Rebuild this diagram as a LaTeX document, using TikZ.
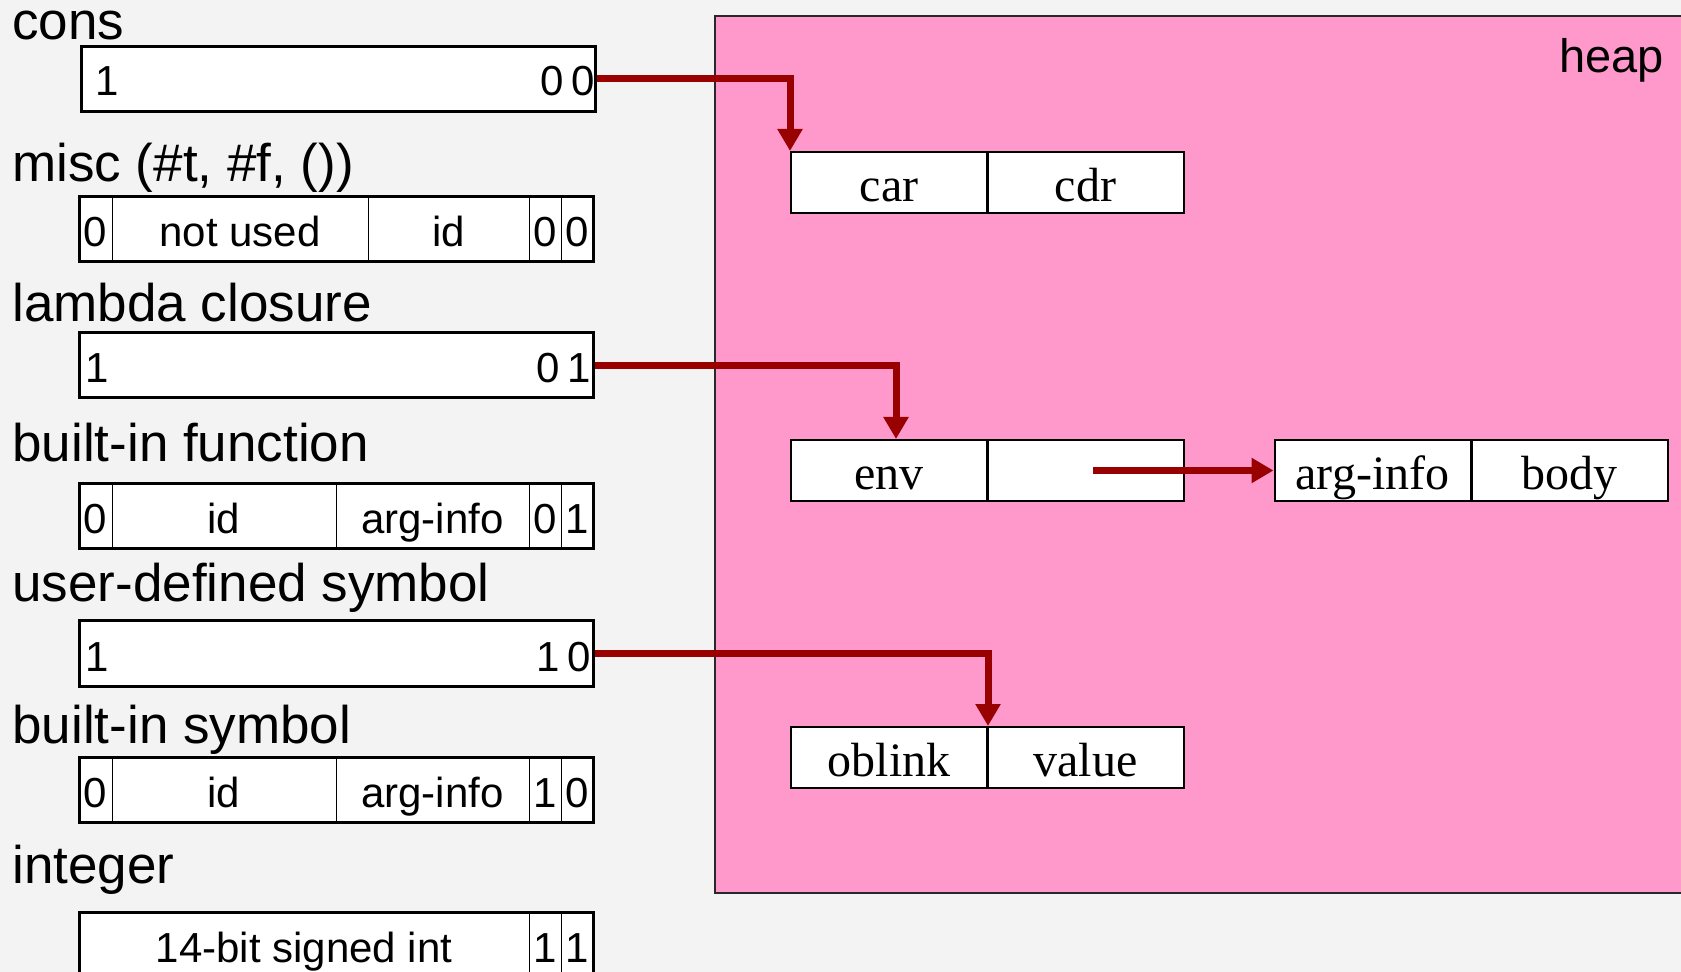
\documentclass[tikz,border=0pt]{standalone}
\usepackage{fontspec}
\setmainfont{Liberation Sans}
\newfontfamily\tms{Liberation Serif}
\usetikzlibrary{arrows.meta}
\definecolor{bgcol}{RGB}{243,243,243}
\definecolor{heappink}{RGB}{255,153,204}
\definecolor{arrred}{RGB}{153,0,0}
\definecolor{heapedge}{RGB}{40,40,40}
\tikzset{
  lbl/.style={anchor=base west, inner sep=0pt, font=\fontsize{26.5pt}{30pt}\selectfont},
  rec/.style={draw=black, line width=1.5pt, minimum width=257pt, minimum height=32.5pt, inner sep=0pt, fill=white},
  cellL/.style={inner sep=0pt, minimum height=32.5pt, text height=17.5pt, text depth=0pt, font=\fontsize{21pt}{24pt}\selectfont},
  txtL/.style={inner sep=0pt, font=\fontsize{21pt}{24pt}\selectfont},
  divider/.style={draw=black, line width=0.8pt},
  hcell/.style={draw=black, line width=1pt, fill=white, minimum width=98pt, minimum height=30.5pt, inner sep=0pt, text height=19pt, text depth=0pt, font=\tms\fontsize{24pt}{28pt}\selectfont},
  arr/.style={draw=arrred, line width=3.5pt, -{Triangle[width=12pt,length=11pt]}},
}
\begin{document}
\begin{tikzpicture}[x=0.5pt,y=-0.5pt]
\useasboundingbox (0,0) rectangle (1681,972);
\clip (0,0) rectangle (1681,972);
\fill[bgcol] (0,0) rectangle (1681,972);

% heap area
\draw[heapedge, line width=1pt, fill=heappink] (715,16) rectangle (1700,893);
\node[anchor=base east, inner sep=0pt, font=\fontsize{23.5pt}{28pt}\selectfont] (heaplbl) at (1664,73) {heap};

% labels
\node[lbl] (lcons) at (12,40) {cons};
\node[lbl] (lmisc) at (12,182) {misc (\#t, \#f, ())};
\node[lbl] (llam) at (12,322) {lambda closure};
\node[lbl] (lbif) at (12,462) {built-in function};
\node[lbl] (luds) at (12,602) {user-defined symbol};
\node[lbl] (lbis) at (12,743) {built-in symbol};
\node[lbl] (lint) at (12,883) {integer};

% cons
\node[rec] (cons) at (338,79) {};
\node[txtL, anchor=base west] (cons1) at (95,96) {1};
\node[txtL, anchor=base east] (cons00) at (595,96) {0\,0};

% misc
\node[rec] (misc) at (336,229.5) {};
\node[cellL, minimum width=16.5pt] (misc0) at (95.5,229.5) {0};
\node[cellL, minimum width=128pt] (miscnu) at (240,229.5) {not used};
\node[cellL, minimum width=80.5pt] (miscid) at (448.5,229.5) {id};
\node[cellL, minimum width=16pt] (miscb1) at (545,229.5) {0};
\node[cellL, minimum width=16pt] (miscb2) at (577,229.5) {0};
\draw[divider] (misc0.north east) -- (misc0.south east);
\draw[divider] (miscnu.north east) -- (miscnu.south east);
\draw[divider] (miscid.north east) -- (miscid.south east);
\draw[divider] (miscb1.north east) -- (miscb1.south east);

% lambda closure
\node[rec] (lam) at (336,365.5) {};
\node[txtL, anchor=base west] (lam1) at (85,383) {1};
\node[txtL, anchor=base east] (lam01) at (591,383) {0\,1};

% built-in function
\node[rec] (bif) at (336,516.5) {};
\node[cellL, minimum width=16.5pt] (bif0) at (95.5,516.5) {0};
\node[cellL, minimum width=112pt] (bifid) at (224,516.5) {id};
\node[cellL, minimum width=96.5pt] (bifai) at (432.5,516.5) {arg-info};
\node[cellL, minimum width=16pt] (bifb1) at (545,516.5) {0};
\node[cellL, minimum width=16pt] (bifb2) at (577,516.5) {1};
\draw[divider] (bif0.north east) -- (bif0.south east);
\draw[divider] (bifid.north east) -- (bifid.south east);
\draw[divider] (bifai.north east) -- (bifai.south east);
\draw[divider] (bifb1.north east) -- (bifb1.south east);

% user-defined symbol
\node[rec] (uds) at (336,653.5) {};
\node[txtL, anchor=base west] (uds1) at (85,671) {1};
\node[txtL, anchor=base east] (uds10) at (591,671) {1\,0};

% built-in symbol
\node[rec] (bis) at (336,789.5) {};
\node[cellL, minimum width=16.5pt] (bis0) at (95.5,789.5) {0};
\node[cellL, minimum width=112pt] (bisid) at (224,789.5) {id};
\node[cellL, minimum width=96.5pt] (bisai) at (432.5,789.5) {arg-info};
\node[cellL, minimum width=16pt] (bisb1) at (545,789.5) {1};
\node[cellL, minimum width=16pt] (bisb2) at (577,789.5) {0};
\draw[divider] (bis0.north east) -- (bis0.south east);
\draw[divider] (bisid.north east) -- (bisid.south east);
\draw[divider] (bisai.north east) -- (bisai.south east);
\draw[divider] (bisb1.north east) -- (bisb1.south east);

% integer
\node[rec] (int) at (336,944.5) {};
\node[cellL, minimum width=225pt] (intv) at (304,944.5) {14-bit signed int};
\node[cellL, minimum width=16pt] (intb1) at (545,944.5) {1};
\node[cellL, minimum width=16pt] (intb2) at (577,944.5) {1};
\draw[divider] (intv.north east) -- (intv.south east);
\draw[divider] (intb1.north east) -- (intb1.south east);

% heap cells
\node[hcell] (car) at (889,182.5) {car};
\node[hcell] (cdr) at (1085.5,182.5) {cdr};
\node[hcell] (env) at (889,470.5) {env};
\node[hcell] (envb) at (1085.5,470.5) {};
\node[hcell] (arginfo) at (1372.5,470.5) {arg-info};
\node[hcell] (body) at (1569.5,470.5) {body};
\node[hcell] (oblink) at (889,757.5) {oblink};
\node[hcell] (value) at (1085.5,757.5) {value};

% arrows
\draw[arr] (cons.east) -| (car.north west);
\draw[arr] (lam.east) -| ([xshift=3.5pt]env.north);
\draw[arr] ([xshift=3.75pt]envb.center) -- (arginfo.west);
\draw[arr] (uds.east) -| (oblink.north east);
\end{tikzpicture}
\end{document}
